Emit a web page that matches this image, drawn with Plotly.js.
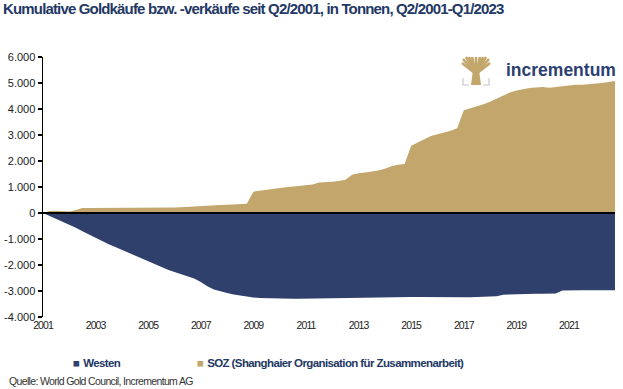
<!DOCTYPE html>
<html>
<head>
<meta charset="utf-8">
<script src="https://cdn.plot.ly/plotly-3.0.1.min.js"></script>
<style>
html,body{margin:0;padding:0;background:#fff;}
#chart{width:623px;height:389px;}
#chart .gtitle{letter-spacing:-0.84px;}
#chart .xtick text{letter-spacing:-0.9px;}
</style>
</head>
<body>
<div id="chart"></div>
<script>
// Quarter categories: Q2/2001 ... Q1/2023
const quarters = [];
for (let y = 2001; y <= 2023; y++) {
  for (let q = 1; q <= 4; q++) {
    if ((y === 2001 && q === 1) || (y === 2023 && q > 1)) continue;
    quarters.push('Q' + q + '/' + y);
  }
}
const xTickLabels = ['2001','2003','2005','2007','2009','2011','2013','2015','2017','2019','2021'];
const yTickValues = [6000,5000,4000,3000,2000,1000,0,-1000,-2000,-3000,-4000];
const yTickLabels = ['6.000','5.000','4.000','3.000','2.000','1.000','0','-1.000','-2.000','-3.000','-4.000'];

// Cumulative tonnes, "Westen"
const westen = [0,-110,-230,-340,-450,-570,-700,-830,-950,-1070,
  -1200,-1310,-1420,-1530,-1650,-1770,-1880,-1990,-2090,-2180,
  -2270,-2350,-2430,-2520,-2650,-2820,-2940,-3020,-3080,-3130,
  -3170,-3220,-3250,-3270,-3280,-3290,-3300,-3300,-3300,-3300,
  -3295,-3290,-3290,-3285,-3280,-3270,-3260,-3250,-3245,-3240,
  -3235,-3230,-3230,-3235,-3230,-3225,-3230,-3235,-3240,-3240,
  -3245,-3250,-3250,-3250,-3245,-3245,-3240,-3235,-3230,-3200,
  -3140,-3130,-3130,-3120,-3120,-3110,-3110,-3100,-3100,-2980,
  -2970,-2970,-2970,-2970,-2970,-2970,-2970,-2970];
// Cumulative tonnes, "SOZ"
const soz = [0,80,90,70,60,120,190,190,190,195,
  195,195,195,195,200,200,200,200,205,205,
  210,220,230,245,255,270,290,305,320,335,
  350,360,820,860,900,930,960,990,1020,1050,
  1080,1100,1170,1180,1200,1230,1280,1470,1530,1560,
  1600,1630,1700,1800,1860,1880,2590,2720,2850,2960,
  3030,3100,3160,3260,3950,4030,4100,4180,4280,4400,
  4520,4630,4710,4770,4810,4830,4850,4820,4850,4880,
  4910,4930,4930,4950,4970,5000,5040,5080];

const seriesNames = ['Westen', 'SOZ (Shanghaier Organisation für Zusammenarbeit)'];
const sourceText = 'Quelle: World Gold Council, Incrementum AG';
const NAVY = '#2E406B', GOLD = '#C2A66B', TEXT = '#233864';

const xIdx = quarters.map((_, i) => i);
const tickIdx = xTickLabels.map(y => quarters.indexOf('Q2/' + y));

const traces = [
  {x: xIdx, y: westen, type: 'scatter', mode: 'lines', fill: 'tozeroy',
   fillcolor: NAVY, line: {width: 0, color: NAVY}, name: seriesNames[0], hoverinfo: 'skip'},
  {x: xIdx, y: soz, type: 'scatter', mode: 'lines', fill: 'tozeroy',
   fillcolor: GOLD, line: {width: 0, color: GOLD}, name: seriesNames[1], hoverinfo: 'skip'}
];

// pixel -> paper helpers for decorations
const L = 43, R = 8, T = 57, B = 72, W = 623, H = 389;
const px = v => (v - L) / (W - L - R);
const py = v => (H - B - v) / (H - T - B);

const SANS = '"Liberation Sans", Arial, sans-serif';

const shapes = [
  {type: 'line', xref: 'paper', yref: 'y', x0: 0, x1: 1, y0: 0, y1: 0,
   line: {color: '#000', width: 2}, layer: 'above'},
  // logo tree trunk
  {type: 'path', xref: 'paper', yref: 'paper', layer: 'above',
   path: `M${px(471)},${py(85)} L${px(481)},${py(85)} L${px(479)},${py(70)} L${px(473)},${py(70)} Z`,
   fillcolor: GOLD, line: {width: 0}},
];
// logo branches
const branchTips = [[462,63],[463,59],[466,57],[469,57],[472,57],[476,57],[480,57],[483,57],[486,57],[489,59],[490,63]];
branchTips.forEach(([bx, by]) => {
  shapes.push({type: 'line', xref: 'paper', yref: 'paper', layer: 'above',
    x0: px(476), y0: py(74), x1: px(bx), y1: py(by), line: {color: GOLD, width: 2.6}});
});
// logo gray brackets
shapes.push({type: 'path', xref: 'paper', yref: 'paper', layer: 'above',
  path: `M${px(463)},${py(78)} L${px(463)},${py(85)} L${px(469)},${py(85)}`, line: {color: '#c8c8c8', width: 1.2}});
shapes.push({type: 'path', xref: 'paper', yref: 'paper', layer: 'above',
  path: `M${px(489)},${py(78)} L${px(489)},${py(85)} L${px(483)},${py(85)}`, line: {color: '#c8c8c8', width: 1.2}});

const LS_LEG = 'letter-spacing:-0.6px';
const LS_SRC = 'letter-spacing:-0.65px';

const annotations = [
  {xref: 'paper', yref: 'paper', x: px(504), y: py(70), xanchor: 'left', yanchor: 'middle',
   text: '<b>incrementum</b>', showarrow: false, font: {family: SANS, size: 17.5, color: '#2B3F73'}},
  {xref: 'paper', yref: 'paper', x: px(71), y: py(362.5), xanchor: 'left', yanchor: 'middle',
   text: `<span style="color:${NAVY}">■</span> <span style="${LS_LEG}"><b>${seriesNames[0]}</b></span>`, showarrow: false,
   font: {family: SANS, size: 11.5, color: TEXT}},
  {xref: 'paper', yref: 'paper', x: px(195), y: py(362.5), xanchor: 'left', yanchor: 'middle',
   text: `<span style="color:${GOLD}">■</span> <span style="${LS_LEG}"><b>${seriesNames[1]}</b></span>`, showarrow: false,
   font: {family: SANS, size: 11.5, color: TEXT}},
  {xref: 'paper', yref: 'paper', x: px(7), y: py(381), xanchor: 'left', yanchor: 'middle',
   text: `<span style="${LS_SRC}">${sourceText}</span>`, showarrow: false,
   font: {family: SANS, size: 10.5, color: '#333'}}
];

const layout = {
  width: W, height: H,
  margin: {l: L, r: R, t: T, b: B, pad: 0},
  paper_bgcolor: '#fff', plot_bgcolor: '#fff',
  showlegend: false,
  title: {text: '<b>Kumulative Goldkäufe bzw. -verkäufe seit Q2/2001, in Tonnen, Q2/2001-Q1/2023</b>',
    xref: 'container', yref: 'container', x: 3 / W, xanchor: 'left', y: 1 - 9 / H, yanchor: 'middle',
    font: {family: SANS, size: 15, color: TEXT}},
  xaxis: {range: [0, quarters.length - 1], tickvals: tickIdx, ticktext: xTickLabels,
    showgrid: false, zeroline: false, showline: false, ticks: '',
    tickfont: {family: SANS, size: 10.5, color: '#222'}, fixedrange: true},
  yaxis: {range: [-4000, 6000], tickvals: yTickValues, ticktext: yTickLabels,
    showgrid: false, zeroline: false, showline: true, linecolor: '#000', linewidth: 1.5,
    ticks: 'outside', ticklen: 4, tickcolor: '#000', tickwidth: 1.2,
    tickfont: {family: SANS, size: 11, color: '#222'}, fixedrange: true},
  shapes: shapes,
  annotations: annotations
};

Plotly.newPlot('chart', traces, layout, {staticPlot: true, displayModeBar: false});
</script>
</body>
</html>
